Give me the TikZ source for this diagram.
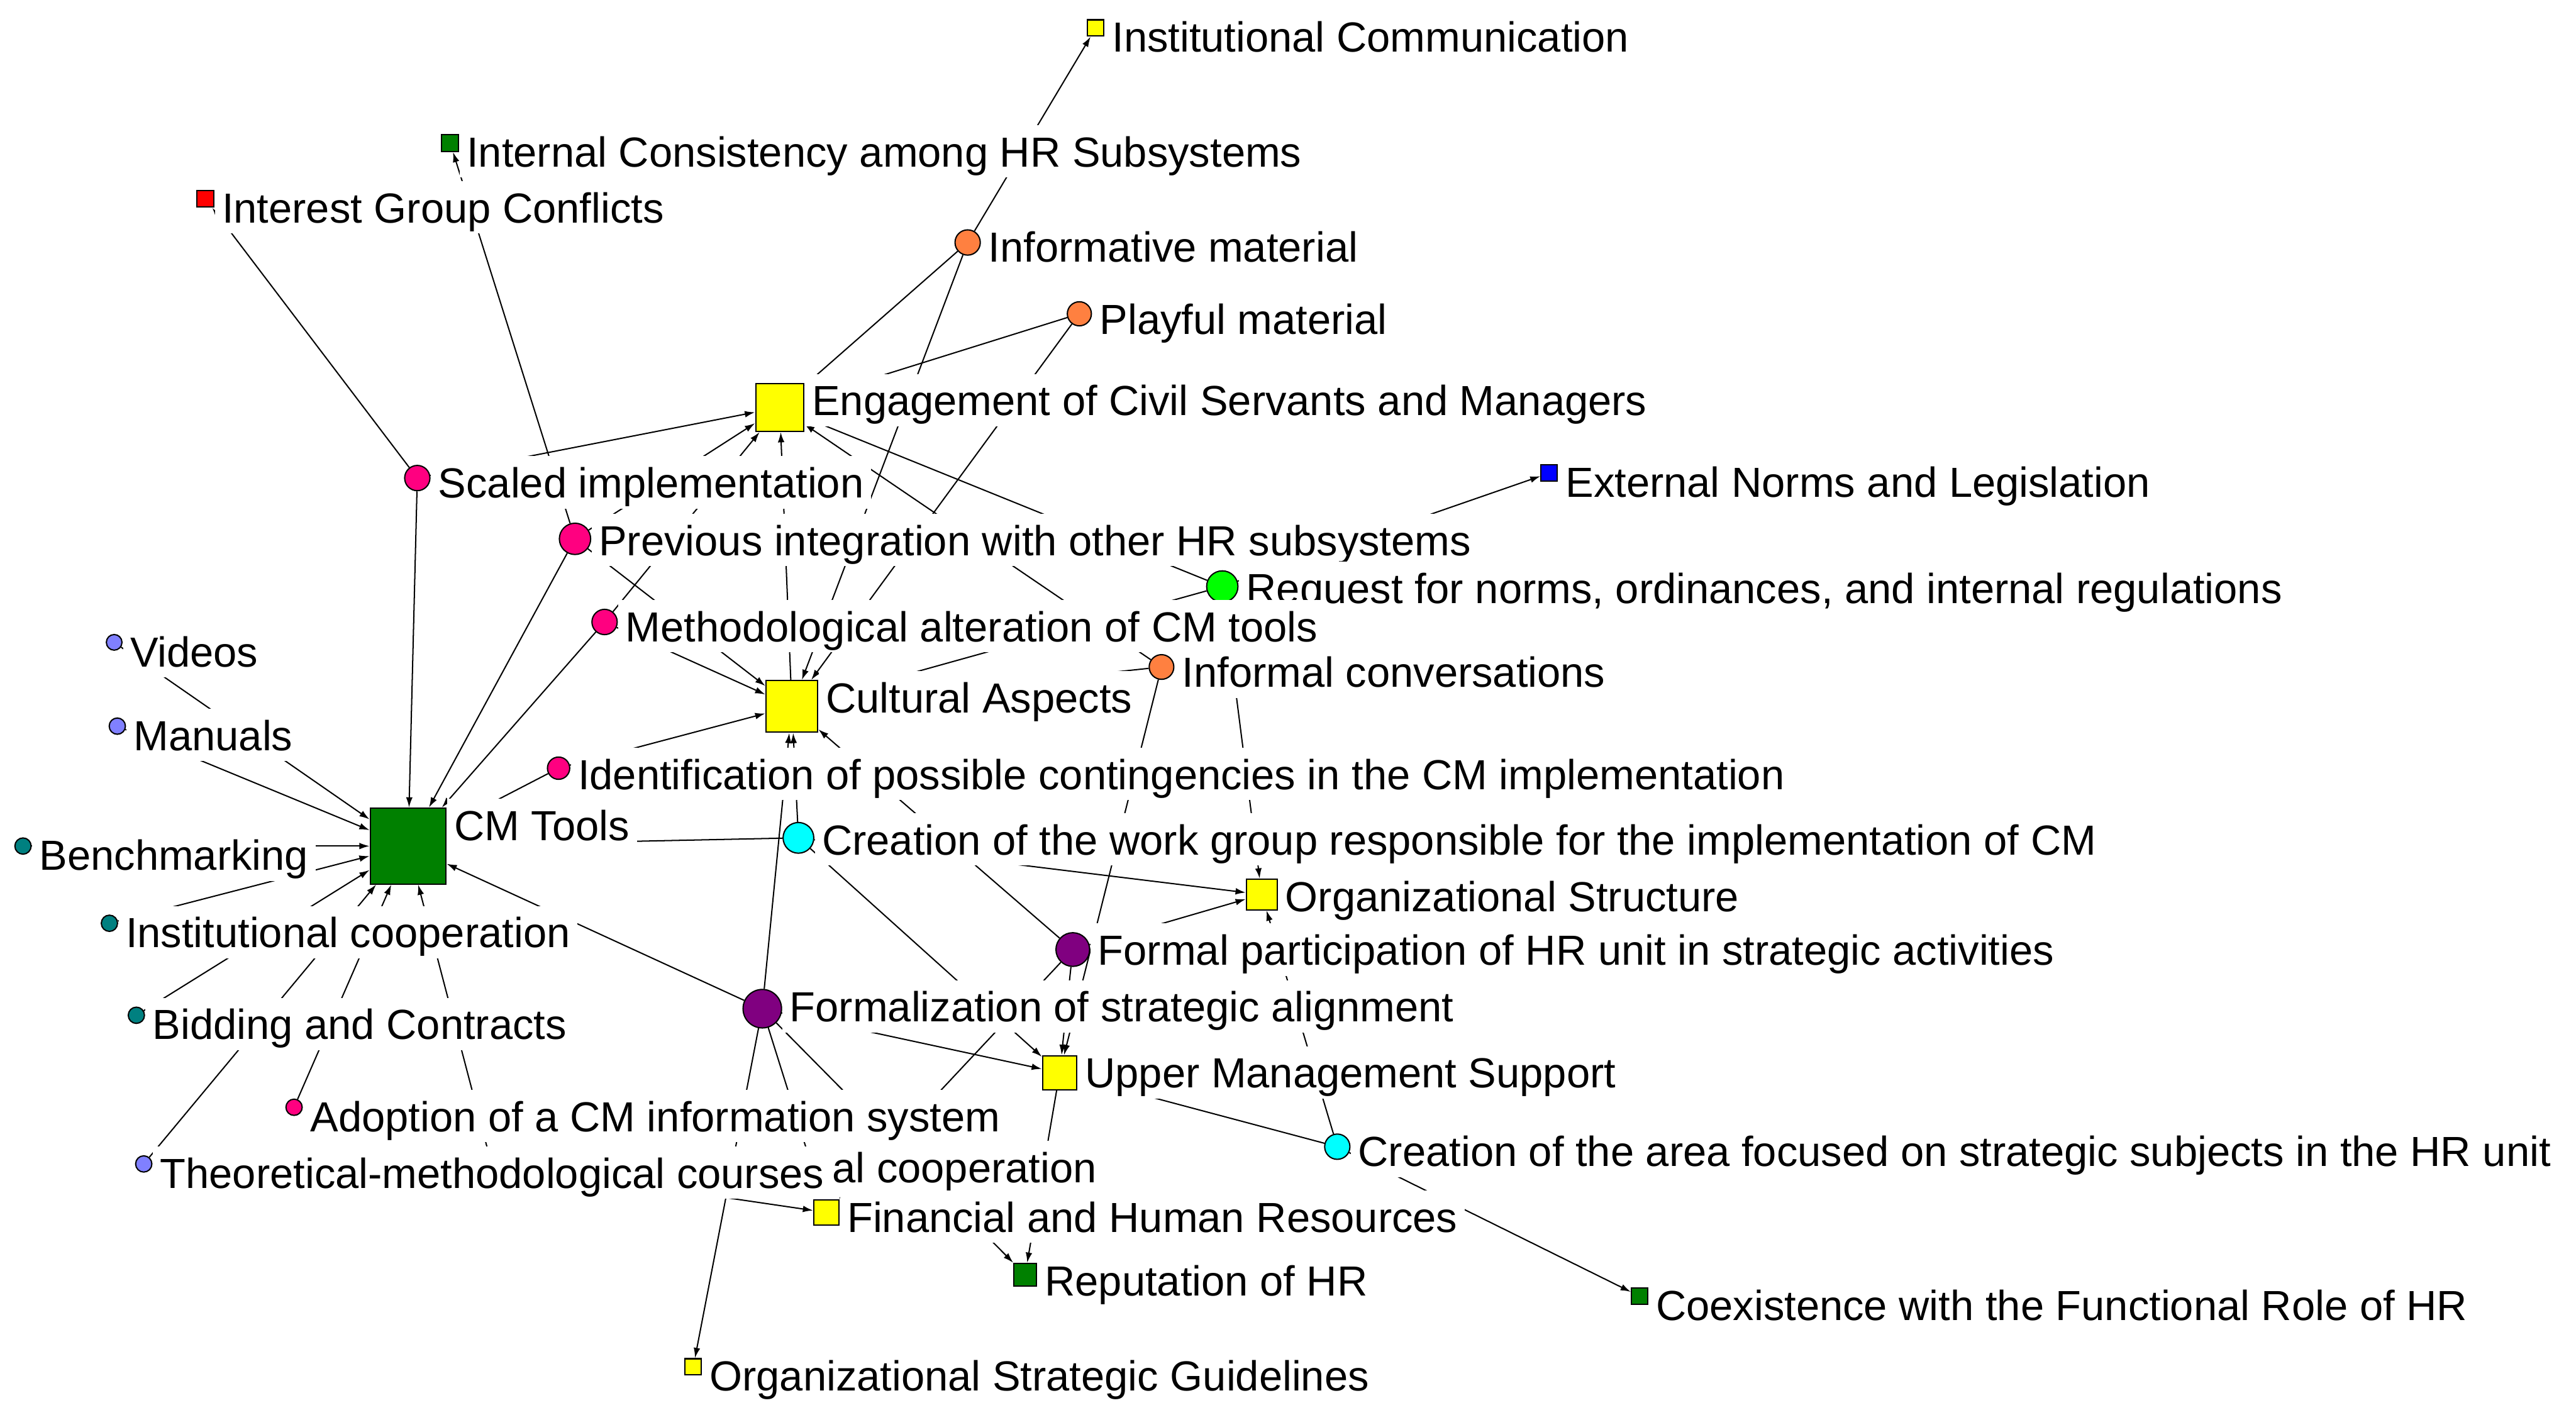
\documentclass[tikz,border=0pt]{standalone}
\usepackage{fontspec}
\setmainfont{Liberation Sans}
\usepackage{tikz}
\usepackage{xcolor}
\usetikzlibrary{arrows.meta, positioning, calc}
\definecolor{cmgreen}{HTML}{008000}
\definecolor{hryellow}{HTML}{FFFF00}
\definecolor{hrpink}{HTML}{FF0080}
\definecolor{hrorange}{HTML}{FF8040}
\definecolor{hrteal}{HTML}{008080}
\definecolor{hrperi}{HTML}{8080FF}
\definecolor{hrcyan}{HTML}{00FFFF}
\definecolor{hrpurple}{HTML}{800080}
\definecolor{hrlime}{HTML}{00FF00}
\definecolor{hrred}{HTML}{FF0000}
\definecolor{hrblue}{HTML}{0000FF}

\begin{document}
\begin{tikzpicture}[
    x=0.02731cm, y=-0.02731cm,
    sq/.style={draw=black, line width=0.6pt, inner sep=0pt, minimum size=#1},
    dot/.style={circle, draw=black, line width=0.6pt, inner sep=0pt, minimum size=#1},
    lab/.style={fill=white, anchor=north west, inner xsep=0.12cm, inner ysep=0pt,
      text height=0.69cm, text depth=0.18cm, font=\fontsize{19.9}{20}\selectfont},
    tie/.style={-{Latex[length=0.17cm,width=0.11cm]}, line width=0.6pt}
  ]
    \fill[white] (0,0) rectangle (1568,861);
    \useasboundingbox (0,0) rectangle (1568,861);

    % square nodes
    \node[sq=0.27cm, fill=hryellow] (instcomm) at (667,17) {};
    \node[sq=0.28cm, fill=cmgreen] (intcons) at (274,87) {};
    \node[sq=0.28cm, fill=hrred] (intgroup) at (125,121) {};
    \node[sq=0.80cm, fill=hryellow] (engage) at (474.6,248) {};
    \node[sq=0.27cm, fill=hrblue] (extnorms) at (943,288) {};
    \node[sq=0.86cm, fill=hryellow] (cultural) at (482,430) {};
    \node[sq=1.26cm, fill=cmgreen] (cmtools) at (248.4,515) {};
    \node[sq=0.51cm, fill=hryellow] (orgstruct) at (768,544.5) {};
    \node[sq=0.57cm, fill=hryellow] (uppermgmt) at (645,653) {};
    \node[sq=0.42cm, fill=hryellow] (financial) at (503,738) {};
    \node[sq=0.38cm, fill=cmgreen] (reputation) at (624,776) {};
    \node[sq=0.27cm, fill=cmgreen] (coexist) at (998,789) {};
    \node[sq=0.27cm, fill=hryellow] (orgstrat) at (422,832) {};

    % round nodes
    \node[dot=0.42cm, fill=hrorange] (infmat) at (589,147.6) {};
    \node[dot=0.40cm, fill=hrorange] (playmat) at (657,191) {};
    \node[dot=0.42cm, fill=hrpink] (scaled) at (254,291) {};
    \node[dot=0.52cm, fill=hrpink] (previnteg) at (350,328) {};
    \node[dot=0.52cm, fill=hrlime] (request) at (744,357) {};
    \node[dot=0.42cm, fill=hrpink] (methalt) at (368,378.6) {};
    \node[dot=0.26cm, fill=hrperi] (videos) at (69.5,391) {};
    \node[dot=0.41cm, fill=hrorange] (infconv) at (707,406) {};
    \node[dot=0.27cm, fill=hrperi] (manuals) at (71.4,442) {};
    \node[dot=0.37cm, fill=hrpink] (ident) at (340,467.6) {};
    \node[dot=0.27cm, fill=hrteal] (bench) at (14,515) {};
    \node[dot=0.51cm, fill=hrcyan] (creawg) at (486,510) {};
    \node[dot=0.27cm, fill=hrteal] (instcoop) at (66.6,562) {};
    \node[dot=0.56cm, fill=hrpurple] (formpart) at (653,578) {};
    \node[dot=0.64cm, fill=hrpurple] (formaliz) at (464,614) {};
    \node[dot=0.27cm, fill=hrteal] (bidding) at (83,618) {};
    \node[dot=0.27cm, fill=hrpink] (adoption) at (179,674) {};
    \node[dot=0.42cm, fill=hrcyan] (creaarea) at (814,698) {};
    \node[dot=0.27cm, fill=hrperi] (theometh) at (87.5,708.5) {};
    \coordinate (coop) at (299,708);

    % ties
    \draw[tie] (infmat) -- (instcomm);
    \draw[tie] (previnteg) -- (intcons);
    \draw[tie] (scaled) -- (intgroup);
    \draw[tie] (scaled) -- (engage);
    \draw[tie] (scaled) -- (cmtools);
    \draw[tie] (previnteg) -- (cmtools);
    \draw[tie] (methalt) -- (cmtools);
    \draw[tie] (ident) -- (cmtools);
    \draw[tie] (videos) -- (cmtools);
    \draw[tie] (manuals) -- (cmtools);
    \draw[tie] (bench) -- (cmtools);
    \draw[tie] (instcoop) -- (cmtools);
    \draw[tie] (bidding) -- (cmtools);
    \draw[tie] (theometh) -- (cmtools);
    \draw[tie] (adoption) -- (cmtools);
    \draw[tie] (coop) -- (cmtools);
    \draw[tie] (formaliz) -- (cmtools);
    \draw[tie] (creawg) -- (cmtools);
    \draw[tie] (previnteg) -- (engage);
    \draw[tie] (methalt) -- (engage);
    \draw[tie] (cultural) -- (engage);
    \draw[tie] (infmat) -- (engage);
    \draw[tie] (playmat) -- (engage);
    \draw[tie] (infconv) -- (engage);
    \draw[tie] (request) -- (engage);
    \draw[tie] (request) -- (extnorms);
    \draw[tie] (infmat) -- (cultural);
    \draw[tie] (playmat) -- (cultural);
    \draw[tie] (methalt) -- (cultural);
    \draw[tie] (previnteg) -- (cultural);
    \draw[tie] (ident) -- (cultural);
    \draw[tie] (request) -- (cultural);
    \draw[tie] (infconv) -- (cultural);
    \draw[tie] (creawg) -- (cultural);
    \draw[tie] (formaliz) -- (cultural);
    \draw[tie] (formpart) -- (cultural);
    \draw[tie] (creawg) -- (orgstruct);
    \draw[tie] (request) -- (orgstruct);
    \draw[tie] (formpart) -- (orgstruct);
    \draw[tie] (creaarea) -- (orgstruct);
    \draw[tie] (creawg) -- (uppermgmt);
    \draw[tie] (infconv) -- (uppermgmt);
    \draw[tie] (formpart) -- (uppermgmt);
    \draw[tie] (formaliz) -- (uppermgmt);
    \draw[tie] (creaarea) -- (uppermgmt);
    \draw[tie] (uppermgmt) -- (reputation);
    \draw[tie] (formaliz) -- (reputation);
    \draw[tie] (formaliz) -- (financial);
    \draw[tie] (formpart) -- (financial);
    \draw[tie] (coop) -- (financial);
    \draw[tie] (formaliz) -- (orgstrat);
    \draw[tie] (creaarea) -- (coexist);

    % labels
    \node[lab] (instcomm-l) at ($(instcomm.east |- instcomm.north)+(0cm,0.15cm)$) {Institutional Communication};
    \node[lab] (intcons-l) at ($(intcons.east |- intcons.north)+(0cm,0.15cm)$) {Internal Consistency among HR Subsystems};
    \node[lab] (intgroup-l) at ($(intgroup.east |- intgroup.north)+(0cm,0.15cm)$) {Interest Group Conflicts};
    \node[lab] (infmat-l) at ($(infmat.east |- infmat.north)+(0cm,0.15cm)$) {Informative material};
    \node[lab] (playmat-l) at ($(playmat.east |- playmat.north)+(0cm,0.15cm)$) {Playful material};
    \node[lab] (engage-l) at ($(engage.east |- engage.north)+(0cm,0.15cm)$) {Engagement of Civil Servants and Managers};
    \node[lab] (scaled-l) at ($(scaled.east |- scaled.north)+(0cm,0.15cm)$) {Scaled implementation};
    \node[lab] (extnorms-l) at ($(extnorms.east |- extnorms.north)+(0cm,0.15cm)$) {External Norms and Legislation};
    \node[lab] (previnteg-l) at ($(previnteg.east |- previnteg.north)+(0cm,0.15cm)$) {Previous integration with other HR subsystems};
    \node[lab] (request-l) at ($(request.east |- request.north)+(0cm,0.15cm)$) {Request for norms, ordinances, and internal regulations};
    \node[lab] (methalt-l) at ($(methalt.east |- methalt.north)+(0cm,0.15cm)$) {Methodological alteration of CM tools};
    \node[lab] (videos-l) at ($(videos.east |- videos.north)+(0cm,0.15cm)$) {Videos};
    \node[lab] (infconv-l) at ($(infconv.east |- infconv.north)+(0cm,0.15cm)$) {Informal conversations};
    \node[lab] (cultural-l) at ($(cultural.east |- cultural.north)+(0cm,0.15cm)$) {Cultural Aspects};
    \node[lab] (manuals-l) at ($(manuals.east |- manuals.north)+(0cm,0.15cm)$) {Manuals};
    \node[lab] (ident-l) at ($(ident.east |- ident.north)+(0cm,0.15cm)$) {Identification of possible contingencies in the CM implementation};
    \node[lab] (cmtools-l) at ($(cmtools.east |- cmtools.north)+(0cm,0.15cm)$) {CM Tools};
    \node[lab] (bench-l) at ($(bench.east |- bench.north)+(0cm,0.15cm)$) {Benchmarking};
    \node[lab] (creawg-l) at ($(creawg.east |- creawg.north)+(0cm,0.15cm)$) {Creation of the work group responsible for the implementation of CM};
    \node[lab] (orgstruct-l) at ($(orgstruct.east |- orgstruct.north)+(0cm,0.15cm)$) {Organizational Structure};
    \node[lab] (instcoop-l) at ($(instcoop.east |- instcoop.north)+(0cm,0.15cm)$) {Institutional cooperation};
    \node[lab] (formpart-l) at ($(formpart.east |- formpart.north)+(0cm,0.15cm)$) {Formal participation of HR unit in strategic activities};
    \node[lab] (formaliz-l) at ($(formaliz.east |- formaliz.north)+(0cm,0.15cm)$) {Formalization of strategic alignment};
    \node[lab] (bidding-l) at ($(bidding.east |- bidding.north)+(0cm,0.15cm)$) {Bidding and Contracts};
    \node[lab] (uppermgmt-l) at ($(uppermgmt.east |- uppermgmt.north)+(0cm,0.15cm)$) {Upper Management Support};
    \node[lab] (adoption-l) at ($(adoption.east |- adoption.north)+(0cm,0.15cm)$) {Adoption of a CM information system};
    \node[lab] (creaarea-l) at ($(creaarea.east |- creaarea.north)+(0cm,0.15cm)$) {Creation of the area focused on strategic subjects in the HR unit};
    \node[lab] (coop-l) at (502,694.3) {al cooperation};
    \node[lab] (theometh-l) at ($(theometh.east |- theometh.north)+(0cm,0.15cm)$) {Theoretical-methodological courses};
    \node[lab] (financial-l) at ($(financial.east |- financial.north)+(0cm,0.15cm)$) {Financial and Human Resources};
    \node[lab] (reputation-l) at ($(reputation.east |- reputation.north)+(0cm,0.15cm)$) {Reputation of HR};
    \node[lab] (coexist-l) at ($(coexist.east |- coexist.north)+(0cm,0.15cm)$) {Coexistence with the Functional Role of HR};
    \node[lab] (orgstrat-l) at ($(orgstrat.east |- orgstrat.north)+(0cm,0.15cm)$) {Organizational Strategic Guidelines};
  \end{tikzpicture}
\end{document}
